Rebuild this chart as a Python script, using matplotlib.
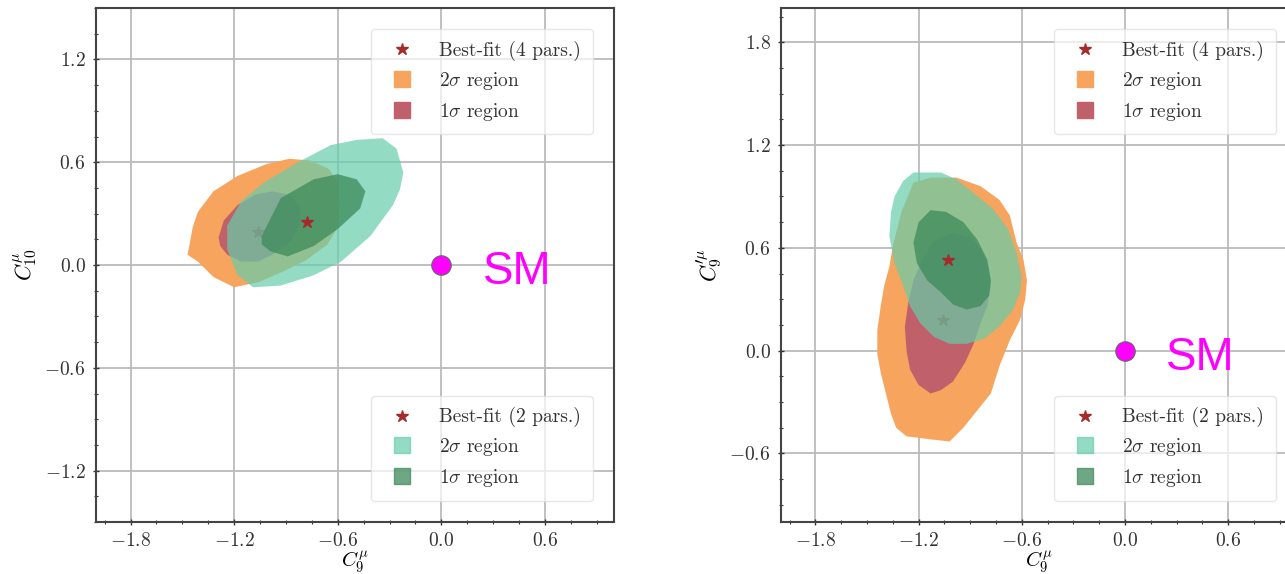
#!/usr/bin/env python3

import numpy as np

from matplotlib import pyplot as plt
from matplotlib.lines import Line2D
from matplotlib.ticker import AutoMinorLocator

plt.rcParams['font.family'] = 'serif'
plt.rcParams['font.serif'] = ['cmr10', 'DejaVu Serif']
plt.rcParams['mathtext.fontset'] = 'cm'
plt.rcParams['axes.formatter.use_mathtext'] = True
plt.rcParams['axes.unicode_minus'] = True

# ---- left panel: (C9, C10) contours ----
L_orange2_x = [-1.46, -1.44, -1.41, -1.32, -1.18, -1.01, -0.88, -0.76, -0.65, -0.60,
               -0.59, -0.60, -0.66, -0.78, -0.92, -1.06, -1.20, -1.32, -1.41, -1.47]
L_orange2_y = [0.11, 0.22, 0.31, 0.43, 0.52, 0.59, 0.62, 0.61, 0.56, 0.48,
               0.36, 0.22, 0.12, 0.03, -0.04, -0.10, -0.13, -0.07, 0.02, 0.06]

L_red1_x = [-1.29, -1.26, -1.18, -1.08, -0.98, -0.88, -0.82, -0.82, -0.87, -0.96,
            -1.06, -1.16, -1.24, -1.28]
L_red1_y = [0.16, 0.26, 0.35, 0.41, 0.43, 0.41, 0.34, 0.24, 0.14, 0.07,
            0.02, 0.02, 0.06, 0.11]

L_teal2_x = [-0.34, -0.26, -0.22, -0.24, -0.28, -0.41, -0.58, -0.74, -0.93, -1.09,
             -1.18, -1.24, -1.24, -1.16, -1.03, -0.83, -0.64, -0.49]
L_teal2_y = [0.74, 0.68, 0.54, 0.44, 0.35, 0.17, 0.02, -0.06, -0.12, -0.13,
             -0.06, 0.09, 0.23, 0.37, 0.48, 0.60, 0.70, 0.73]

L_teal1_x = [-1.04, -0.93, -0.74, -0.60, -0.49, -0.44, -0.47, -0.60, -0.74, -0.89,
             -0.99, -1.04]
L_teal1_y = [0.17, 0.39, 0.50, 0.53, 0.50, 0.43, 0.33, 0.21, 0.11, 0.05,
             0.08, 0.12]

L_best4 = (-1.06, 0.19)
L_best2 = (-0.78, 0.25)

# ---- right panel: (C9, C9') contours ----
R_orange2_x = [-1.13, -0.98, -0.84, -0.73, -0.67, -0.63, -0.59, -0.57, -0.58, -0.61,
               -0.67, -0.73, -0.78, -0.86, -0.94, -1.02, -1.11, -1.27, -1.33, -1.36,
               -1.39, -1.42, -1.44, -1.44, -1.42, -1.40, -1.37, -1.35, -1.30, -1.23]
R_orange2_y = [1.01, 1.01, 0.96, 0.88, 0.79, 0.63, 0.53, 0.41, 0.30, 0.18,
               0.06, -0.09, -0.25, -0.35, -0.45, -0.53, -0.52, -0.50, -0.45, -0.37,
               -0.25, -0.13, -0.02, 0.12, 0.26, 0.38, 0.49, 0.61, 0.81, 0.98]

R_red1_x = [-1.00, -0.90, -0.83, -0.79, -0.78, -0.80, -0.84, -0.88, -0.93, -1.00,
            -1.07, -1.13, -1.20, -1.25, -1.27, -1.28, -1.26, -1.23, -1.18, -1.11]
R_red1_y = [0.69, 0.66, 0.58, 0.47, 0.38, 0.26, 0.16, 0.04, -0.07, -0.18,
            -0.23, -0.25, -0.20, -0.11, 0.00, 0.14, 0.28, 0.41, 0.53, 0.64]

R_teal2_x = [-1.23, -1.07, -0.98, -0.88, -0.77, -0.68, -0.63, -0.60, -0.61, -0.65,
             -0.73, -0.82, -0.92, -1.02, -1.11, -1.19, -1.25, -1.29, -1.34, -1.37,
             -1.36, -1.34, -1.29]
R_teal2_y = [1.04, 1.04, 1.00, 0.92, 0.83, 0.71, 0.57, 0.43, 0.34, 0.24,
             0.14, 0.07, 0.04, 0.04, 0.08, 0.16, 0.26, 0.38, 0.51, 0.67,
             0.81, 0.90, 0.99]

R_teal1_x = [-1.13, -1.04, -0.94, -0.86, -0.80, -0.78, -0.79, -0.84, -0.92, -1.00,
             -1.07, -1.15, -1.21, -1.23, -1.20]
R_teal1_y = [0.82, 0.81, 0.75, 0.65, 0.53, 0.41, 0.32, 0.26, 0.24, 0.27,
             0.34, 0.41, 0.51, 0.63, 0.75]

R_best4 = (-1.06, 0.18)
R_best2 = (-1.03, 0.53)

SM = (0.0, 0.0)

c_orange = '#F6A45E'
c_red = '#C0606A'
c_teal = '#66CDAA'
c_green = '#3D8A5A'
c_star = '#A52A2A'


def panel(ax, orange, red, teal, green, best4, best2, ylim, ylabel, yticks):
    ax.fill(orange[0], orange[1], color=c_orange, lw=0, zorder=2)
    ax.fill(red[0], red[1], color=c_red, lw=0, zorder=3)
    ax.plot(*best4, marker='*', ms=9, color=c_star, ls='none', zorder=4)
    ax.fill(teal[0], teal[1], color=c_teal, alpha=0.7, lw=0, zorder=5)
    ax.fill(green[0], green[1], color=c_green, alpha=0.75, lw=0, zorder=6)
    ax.plot(*best2, marker='*', ms=9, color=c_star, ls='none', zorder=7)

    ax.plot(*SM, marker='o', ms=14, color='#FF00FF', mec='#666666', mew=0.8,
            ls='none', zorder=8, clip_on=False)
    ax.text(SM[0] + 0.24, SM[1] - 0.04, 'SM', color='#FF00FF', fontsize=33,
            family='Liberation Sans', va='center', ha='left', zorder=8)

    ax.set_xlim(-2.0, 1.0)
    ax.set_ylim(*ylim)
    ax.set_xticks([-1.8, -1.2, -0.6, 0.0, 0.6])
    ax.set_yticks(yticks)
    ax.xaxis.set_minor_locator(AutoMinorLocator(4))
    ax.yaxis.set_minor_locator(AutoMinorLocator(4))
    ax.tick_params(which='major', direction='inout', length=5, width=1.0,
                   labelsize=14, colors='#333333', pad=5)
    ax.tick_params(which='minor', direction='inout', length=3, width=0.8, colors='#333333')
    ax.grid(True, which='major', color='#BBBBBB', lw=1.3)
    ax.set_axisbelow(True)
    for s in ax.spines.values():
        s.set_color('#444444')
        s.set_linewidth(1.5)

    ax.set_xlabel(r'$C_9^{\mu}$', fontsize=15, labelpad=-1)
    ax.set_ylabel(ylabel, fontsize=16, labelpad=4)

    star = Line2D([], [], marker='*', ms=9, color=c_star, ls='none')
    h4 = [star,
          Line2D([], [], marker='s', ms=11, color=c_orange, ls='none'),
          Line2D([], [], marker='s', ms=11, color=c_red, ls='none')]
    h2 = [star,
          Line2D([], [], marker='s', ms=11, color=c_teal, alpha=0.7, ls='none'),
          Line2D([], [], marker='s', ms=11, color=c_green, alpha=0.75, ls='none')]
    lab4 = ['Best-fit (4 pars.)', r'$2\sigma$ region', r'$1\sigma$ region']
    lab2 = ['Best-fit (2 pars.)', r'$2\sigma$ region', r'$1\sigma$ region']
    kw = dict(fontsize=14, framealpha=0.7, edgecolor='#DDDDDD', borderaxespad=1.1,
              handlelength=2.0, handletextpad=0.9, borderpad=0.6,
              labelspacing=0.45, labelcolor='#333333')
    leg1 = ax.legend(h4, lab4, loc='upper right', **kw)
    leg1.set_zorder(10)
    ax.add_artist(leg1)
    leg2 = ax.legend(h2, lab2, loc='lower right', **kw)
    leg2.set_zorder(10)


def main():
    W, H = 1285, 574
    fig = plt.figure(figsize=(W / 100, H / 100), dpi=100)
    ax1 = fig.add_axes([96 / W, 1 - 522 / H, 518 / W, 514 / H])
    ax2 = fig.add_axes([781 / W, 1 - 522 / H, 516 / W, 514 / H])

    panel(ax1, (L_orange2_x, L_orange2_y), (L_red1_x, L_red1_y),
          (L_teal2_x, L_teal2_y), (L_teal1_x, L_teal1_y), L_best4, L_best2,
          (-1.5, 1.5), r'$C_{10}^{\mu}$', [-1.2, -0.6, 0.0, 0.6, 1.2])
    panel(ax2, (R_orange2_x, R_orange2_y), (R_red1_x, R_red1_y),
          (R_teal2_x, R_teal2_y), (R_teal1_x, R_teal1_y), R_best4, R_best2,
          (-1.0, 2.0), r"$C_9^{\prime\mu}$", [-0.6, 0.0, 0.6, 1.2, 1.8])

    fig.savefig('out.png', dpi=100)
    plt.clf()


if __name__ == '__main__':
    main()
